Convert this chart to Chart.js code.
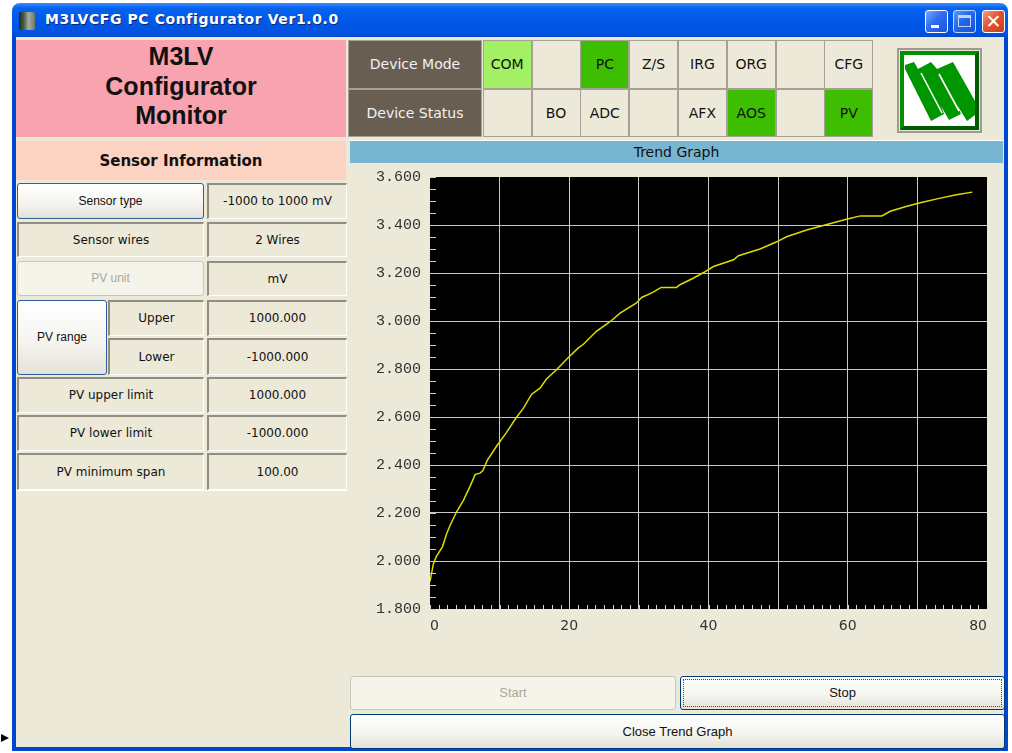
<!DOCTYPE html>
<html>
<head>
<meta charset="utf-8">
<script src="https://cdn.jsdelivr.net/npm/chart.js@4.4.1/dist/chart.umd.min.js"></script>
<style>
  body { margin: 0; width: 1012px; height: 753px; background: #fff; overflow: hidden; position: relative; font-family: "DejaVu Sans", sans-serif; }
  .abs { position: absolute; box-sizing: border-box; }
  .win { left: 12px; top: 3px; width: 996px; height: 748px; border-radius: 8px 8px 0 0;
         background: linear-gradient(#3B8CFF 0px, #0663F0 5px, #0058E6 18px, #0054E0 30px, #0047D0 34px, #0046CF 100%); }
  .client { left: 16px; top: 37px; width: 988px; height: 710px; background: #ECE9D8; }
  .title { left: 45px; top: 11px; color: #fff; font: bold 14px "DejaVu Sans", sans-serif; letter-spacing: 0.6px; text-shadow: 1px 1px 0 #0a2a8a; white-space: nowrap; }
  .ticon { left: 19px; top: 12px; width: 16px; height: 18px; border-radius: 2px; background: linear-gradient(90deg, #1e2a1e 0, #4a5a48 30%, #a8aca0 60%, #70766c 100%); }
  .tbtn { top: 10px; width: 23px; height: 23px; border: 1px solid #fff; border-radius: 3px; background: linear-gradient(135deg, #7DA8FF 0%, #2F6CF0 45%, #1D55D8 100%); }
  .tbtn.close { background: linear-gradient(135deg, #F2A08A 0%, #E2532F 45%, #C8401E 100%); color: #fff; font: bold 19px "DejaVu Sans", sans-serif; text-align: center; line-height: 21px; }
  .pink { left: 16px; top: 40px; width: 330px; height: 97px; background: #FAA3B0; text-align: center; font: bold 25px "Liberation Sans", Arial, sans-serif; line-height: 29.5px; padding-top: 2px; color: #111; }
  .sinfo { left: 16px; top: 141px; width: 330px; height: 39px; background: #FCD2C2; text-align: center; font: bold 15px "DejaVu Sans", sans-serif; line-height: 40px; color: #111; }
  .dm { left: 348px; width: 134px; background: #685E52; color: #F2F2F2; font-size: 14px; text-align: center; border: 1px solid #A5A193; }
  .cell { width: 49px; font-size: 14px; text-align: center; color: #111; border: 1px solid #A5A193; background: #ECE9D8; }
  .lg { background: #A3F064; }
  .dg { background: #3EBE00; }
  .trend { left: 350px; top: 140px; width: 653px; height: 23px; background: #78B5D1; text-align: center; font-size: 14px; line-height: 23px; color: #111; border-top: 1px solid #fff; }
  .chartbox { left: 350px; top: 165px; width: 653px; height: 490px; }
  .btn { border: 1px solid #003C74; border-radius: 3px; background: linear-gradient(#FFFFFF 0%, #F4F3EE 60%, #E3E1D7 100%); text-align: center; font: 13px "Liberation Sans", Arial, sans-serif; color: #111; }
  .btn.off { border-color: #C9C7BA; background: #F5F4EA; color: #ACA899; }
  .lab { border-top: 2px solid #918D81; border-left: 2px solid #918D81; border-right: 1px solid #fff; border-bottom: 1px solid #fff; text-align: center; font-size: 12px; color: #111; background: #ECE9D8; }
  .tb { font-size: 12px; }
</style>
</head>
<body>
<div class="abs win"></div>
<div class="abs client"></div>
<div class="abs ticon"></div>
<div class="abs title">M3LVCFG PC Configurator Ver1.0.0</div>
<div class="abs tbtn" style="left:925px"><div class="abs" style="left:5px;top:14px;width:8px;height:3px;background:#fff"></div></div>
<div class="abs tbtn" style="left:953px;opacity:0.75"><div class="abs" style="left:4px;top:4px;width:13px;height:12px;border:1px solid #fff;border-top-width:3px"></div></div>
<div class="abs tbtn close" style="left:982px">&#x2715;</div>

<div class="abs pink">M3LV<br>Configurator<br>Monitor</div>
<div class="abs sinfo">Sensor Information</div>

<div class="abs dm" style="top:40px;height:49px;line-height:47px">Device Mode</div>
<div class="abs dm" style="top:89px;height:48px;line-height:46px">Device Status</div>
<div id="cells"></div>

<div class="abs" style="left:897px;top:48px;width:85px;height:85px;border:2px solid #9C9A92;background:#ECE9D8">
  <div class="abs" style="left:1px;top:1px;width:79px;height:79px;border:4px solid #008F00;border-right-color:#005A00;border-bottom-color:#005A00;background:#fff">
    <svg class="abs" style="left:0;top:0" width="71" height="71" viewBox="0 0 71 71">
      <polygon fill="#009600" points="1,10 10,7 14,14 27,7 33,14 49,7 71,46 71,60 63,66 53,50 57,59 45,65 37,51 40,59 27,66 12,36 1,14"/>
      <line x1="17" y1="18" x2="38" y2="58" stroke="#fff" stroke-width="1.6"/>
      <line x1="35" y1="19" x2="55" y2="56" stroke="#fff" stroke-width="1.6"/>
    </svg>
  </div>
</div>

<div class="abs trend">Trend Graph</div>
<div class="abs chartbox"><canvas id="trendChart"></canvas></div>

<!-- sensor table -->
<div class="abs btn tb" style="left:17px;top:183px;width:187px;height:36px;line-height:34px;border-color:#2E5F9E">Sensor type</div>
<div class="abs lab" style="left:207px;top:183px;width:140px;height:36px;line-height:33px">-1000 to 1000 mV</div>
<div class="abs lab" style="left:17px;top:222px;width:187px;height:35px;line-height:32px">Sensor wires</div>
<div class="abs lab" style="left:207px;top:222px;width:140px;height:35px;line-height:32px">2 Wires</div>
<div class="abs btn off tb" style="left:17px;top:261px;width:187px;height:35px;line-height:33px">PV unit</div>
<div class="abs lab" style="left:207px;top:261px;width:140px;height:35px;line-height:32px">mV</div>
<div class="abs btn tb" style="left:17px;top:300px;width:90px;height:75px;line-height:73px;border-color:#2E5F9E">PV range</div>
<div class="abs lab" style="left:108px;top:300px;width:96px;height:36px;line-height:33px">Upper</div>
<div class="abs lab" style="left:207px;top:300px;width:140px;height:36px;line-height:33px">1000.000</div>
<div class="abs lab" style="left:108px;top:338px;width:96px;height:37px;line-height:34px">Lower</div>
<div class="abs lab" style="left:207px;top:338px;width:140px;height:37px;line-height:34px">-1000.000</div>
<div class="abs lab" style="left:17px;top:377px;width:187px;height:36px;line-height:33px">PV upper limit</div>
<div class="abs lab" style="left:207px;top:377px;width:140px;height:36px;line-height:33px">1000.000</div>
<div class="abs lab" style="left:17px;top:415px;width:187px;height:36px;line-height:33px">PV lower limit</div>
<div class="abs lab" style="left:207px;top:415px;width:140px;height:36px;line-height:33px">-1000.000</div>
<div class="abs lab" style="left:17px;top:453px;width:187px;height:37px;line-height:34px">PV minimum span</div>
<div class="abs lab" style="left:207px;top:453px;width:140px;height:37px;line-height:34px">100.00</div>
<div class="abs" style="left:16px;top:490px;width:331px;height:1px;background:#fff"></div>

<div class="abs btn off" style="left:350px;top:676px;width:326px;height:34px;line-height:32px">Start</div>
<div class="abs btn" style="left:680px;top:676px;width:325px;height:34px;line-height:32px"><div class="abs" style="left:2px;top:2px;right:2px;bottom:2px;border:1px dotted #444;"></div>Stop</div>
<div class="abs btn" style="left:350px;top:714px;width:655px;height:35px;line-height:33px">Close Trend Graph</div>

<div class="abs" style="left:1px;top:734px;width:0;height:0;border-left:8px solid #000;border-top:4px solid transparent;border-bottom:4px solid transparent"></div>

<script>
// status panel
const modeLabels = ['COM', '', 'PC', 'Z/S', 'IRG', 'ORG', '', 'CFG'];
const modeColors = ['lg', '', 'dg', '', '', '', '', ''];
const statusLabels = ['', 'BO', 'ADC', '', 'AFX', 'AOS', '', 'PV'];
const statusColors = ['', '', '', '', '', 'dg', '', 'dg'];

// trend data (time, PV)
const trendX = [0, 0.5, 0.9, 1.8, 2.4, 2.9, 3.8, 4.8, 5.7, 6.5, 7.2, 7.6, 8.2, 9.6, 11.0, 12.4, 13.4, 14.6, 15.8, 16.7,
                18.2, 19.8, 21.3, 22.0, 23.9, 25.9, 27.3, 29.6, 30.4, 32.0, 33.2, 35.4, 35.9, 37.8, 39.3, 40.7, 43.6, 44.3,
                47.4, 49.8, 51.2, 54.1, 57.0, 59.8, 61.8, 64.9, 66.1, 68.5, 70.4, 73.3, 75.6, 77.9];
const trendY = [1.914, 1.99, 2.018, 2.06, 2.115, 2.149, 2.204, 2.253, 2.308, 2.361, 2.366, 2.377, 2.418, 2.48, 2.536, 2.598, 2.636, 2.695, 2.72, 2.757,
                2.798, 2.846, 2.888, 2.902, 2.957, 2.998, 3.033, 3.074, 3.098, 3.119, 3.14, 3.14, 3.151, 3.178, 3.202, 3.227, 3.255, 3.272,
                3.3, 3.33, 3.351, 3.379, 3.402, 3.424, 3.438, 3.438, 3.457, 3.478, 3.493, 3.512, 3.526, 3.537];

const xMin = 0, xMax = 80, xStep = 10, xMinorStep = 1.25;
const yMin = 1.8, yMax = 3.6, yStep = 0.2, yMinorStep = 0.05;

function buildCells() {
    const host = document.getElementById('cells');
    [[modeLabels, modeColors, 40, 49], [statusLabels, statusColors, 89, 48]].forEach(([labels, colors, top, h]) => {
        labels.forEach((txt, i) => {
            const d = document.createElement('div');
            d.className = 'abs cell ' + colors[i];
            d.style.left = (482.7 + i * 48.8) + 'px';
            d.style.top = top + 'px';
            d.style.height = h + 'px';
            d.style.lineHeight = (h - 2) + 'px';
            d.textContent = txt;
            host.appendChild(d);
        });
    });
}
buildCells();

const plotBackground = {
    id: 'plotBackground',
    beforeDraw(chart) {
        const {ctx, chartArea: a} = chart;
        ctx.save();
        ctx.fillStyle = '#000';
        ctx.fillRect(a.left, a.top, a.right - a.left, a.bottom - a.top);
        ctx.restore();
    }
};

// short inner ticks along the left and bottom edges
const minorTicks = {
    id: 'minorTicks',
    beforeDatasetsDraw(chart) {
        const {ctx, chartArea: a, scales: {x, y}} = chart;
        ctx.save();
        ctx.strokeStyle = '#d0d0d0';
        ctx.lineWidth = 1;
        ctx.beginPath();
        for (let v = yMin; v <= yMax + 1e-9; v += yMinorStep) {
            const py = Math.round(y.getPixelForValue(v)) + 0.5;
            ctx.moveTo(a.left, py);
            ctx.lineTo(a.left + 6, py);
        }
        for (let v = xMin; v <= xMax + 1e-9; v += xMinorStep) {
            const px = Math.round(x.getPixelForValue(v)) + 0.5;
            ctx.moveTo(px, a.bottom);
            ctx.lineTo(px, a.bottom - 4);
        }
        ctx.stroke();
        ctx.restore();
    }
};

function edgeHidden(min, max) {
    return (c) => (c.tick && (Math.abs(c.tick.value - min) < 1e-6 || Math.abs(c.tick.value - max) < 1e-6)) ? 'rgba(0,0,0,0)' : '#c8c8c8';
}

const ctx = document.getElementById('trendChart').getContext('2d');
const trendChart = new Chart(ctx, {
    type: 'line',
    data: {
        datasets: [{
            label: 'PV',
            data: trendX.map((t, i) => ({x: t, y: trendY[i]})),
            borderColor: '#DCDC00',
            borderWidth: 1.5,
            pointRadius: 0,
            tension: 0,
        }]
    },
    options: {
        responsive: true,
        maintainAspectRatio: false,
        animation: false,
        layout: { padding: { top: 12, right: 16, left: 0, bottom: 0 } },
        plugins: { legend: { display: false }, tooltip: { enabled: false } },
        scales: {
            x: {
                type: 'linear',
                min: xMin,
                max: xMax,
                border: { display: false },
                grid: { color: edgeHidden(xMin, xMax), drawTicks: false, lineWidth: 1 },
                ticks: {
                    stepSize: xStep,
                    autoSkip: false,
                    maxRotation: 0,
                    align: 'inner',
                    padding: 9,
                    color: '#333',
                    font: { family: 'DejaVu Sans', size: 14 },
                    callback: (v) => (v % 20 === 0 ? String(v) : '')
                },
                afterFit(scale) {
                    scale.height = 46;
                    scale.paddingLeft = 0;
                    scale.paddingRight = 0;
                }
            },
            y: {
                min: yMin,
                max: yMax,
                border: { display: false },
                grid: { color: edgeHidden(yMin, yMax), drawTicks: false, lineWidth: 1 },
                ticks: {
                    stepSize: yStep,
                    padding: 9,
                    color: '#333',
                    font: { family: 'Liberation Mono', size: 15 },
                    callback: (v) => v.toFixed(3)
                },
                afterFit(scale) {
                    scale.width = 80;
                    scale.paddingTop = 0;
                    scale.paddingBottom = 0;
                }
            }
        }
    },
    plugins: [plotBackground, minorTicks]
});
</script>
</body>
</html>
